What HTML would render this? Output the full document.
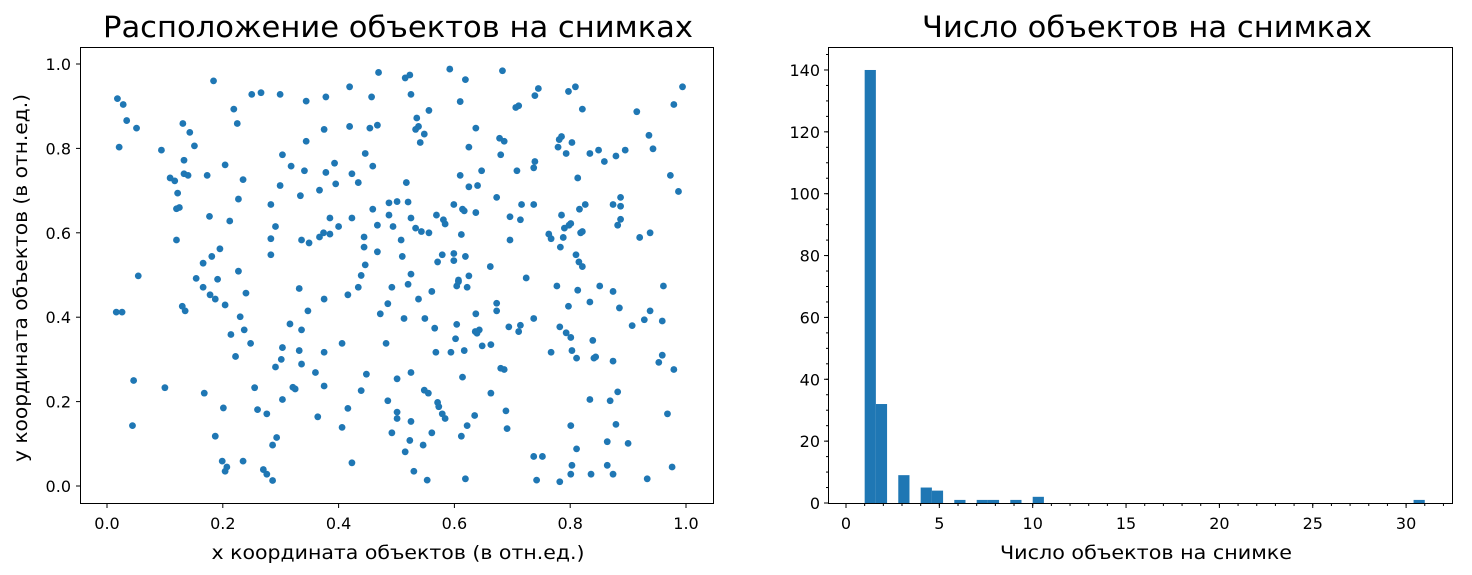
<!DOCTYPE html>
<html><head><meta charset="utf-8">
<style>
html,body{margin:0;padding:0;background:#fff;}
svg{display:block;font-family:"DejaVu Sans","Liberation Sans",sans-serif;}
</style></head>
<body>
<svg id="fig" width="1472" height="575" viewBox="0 0 1472 575" xmlns="http://www.w3.org/2000/svg">
<rect width="1472" height="575" fill="#fff"/>
<g id="left"></g>
<g id="right"></g>
</svg>
<script>
const xs = [0.018,0.028,0.034,0.051,0.021,0.094,0.184,0.131,0.143,0.151,0.133,0.133,0.140,0.109,0.117,0.122,0.120,0.125,0.120,0.054,0.154,0.191,0.173,0.204,0.219,0.225,0.235,0.227,0.177,0.212,0.250,0.266,0.299,0.283,0.291,0.283,0.283,0.195,0.181,0.166,0.227,0.299,0.303,0.318,0.341,0.334,0.344,0.344,0.378,0.375,0.378,0.393,0.395,0.367,0.385,0.400,0.336,0.349,0.367,0.374,0.385,0.419,0.419,0.423,0.434,0.423,0.446,0.459,0.457,0.469,0.454,0.467,0.459,0.467,0.444,0.444,0.446,0.439,0.467,0.487,0.487,0.494,0.501,
0.515,0.523,0.525,0.592,0.619,0.683,0.610,0.556,0.535,0.533,0.538,0.548,0.541,0.637,0.625,0.678,0.686,0.680,0.706,0.711,0.739,0.745,0.797,0.809,0.821,0.915,0.979,0.994,0.936,0.943,0.781,0.785,0.779,0.803,0.793,0.834,0.849,0.859,0.879,0.895,0.739,0.737,0.708,0.647,0.610,0.625,0.640,0.673,0.813,0.973,0.987,0.517,0.520,0.599,0.614,0.617,0.637,0.716,0.737,0.696,0.714,0.569,0.581,0.584,0.525,0.533,0.543,0.556,0.612,0.508,0.510,0.525,0.571,0.579,0.599,0.599,0.619,0.662,0.625,0.607,0.724,0.696,0.785,0.790,0.798,0.801,0.788,0.783,0.763,0.767,0.818,0.821,0.816,0.826,0.810,0.815,0.821,0.874,0.887,0.887,0.887,0.882,0.920,0.938,
0.016,0.026,0.166,0.178,0.187,0.204,0.240,0.130,0.135,0.230,0.214,0.237,0.248,0.222,0.046,0.100,0.168,0.044,0.201,0.187,0.199,0.207,0.204,0.235,0.255,0.260,0.276,0.286,0.293,0.270,0.276,0.286,0.291,0.301,0.303,0.303,0.316,0.332,0.336,0.332,0.336,0.347,0.375,0.360,0.321,0.325,0.375,0.375,0.364,0.406,0.416,0.434,0.406,0.416,0.423,0.439,0.448,0.472,0.485,0.492,0.482,0.485,0.492,0.501,0.501,0.501,
0.520,0.561,0.538,0.604,0.607,0.622,0.513,0.549,0.566,0.604,0.637,0.673,0.673,0.636,0.643,0.639,0.602,0.568,0.594,0.617,0.648,0.663,0.694,0.714,0.711,0.737,0.777,0.813,0.851,0.874,0.834,0.797,0.885,0.961,0.938,0.928,0.907,0.959,0.782,0.793,0.801,0.839,0.767,0.803,0.811,0.841,0.844,0.874,0.959,0.953,0.979,0.525,0.614,0.680,0.686,0.663,0.548,0.555,0.571,0.573,0.579,0.584,0.525,0.635,0.622,0.612,0.561,0.523,0.546,0.515,0.530,0.553,0.619,0.689,0.691,0.737,0.752,0.742,0.782,0.801,0.811,0.803,0.801,0.836,0.834,0.869,0.882,0.879,0.864,0.900,0.864,0.874,0.933,0.968,0.976];
const ys = [0.918,0.904,0.866,0.848,0.803,0.796,0.960,0.859,0.838,0.806,0.772,0.740,0.736,0.730,0.723,0.694,0.657,0.660,0.583,0.498,0.492,0.490,0.736,0.761,0.893,0.859,0.726,0.680,0.639,0.628,0.928,0.932,0.928,0.667,0.615,0.586,0.548,0.562,0.544,0.528,0.509,0.712,0.785,0.758,0.747,0.688,0.912,0.817,0.922,0.845,0.743,0.765,0.716,0.701,0.635,0.615,0.583,0.576,0.590,0.600,0.597,0.946,0.852,0.740,0.719,0.635,0.788,0.758,0.922,0.980,0.848,0.855,0.656,0.618,0.590,0.566,0.524,0.499,0.555,0.671,0.642,0.615,0.674,
0.967,0.974,0.928,0.988,0.963,0.984,0.911,0.890,0.872,0.845,0.852,0.834,0.814,0.848,0.803,0.824,0.817,0.785,0.897,0.901,0.925,0.942,0.935,0.946,0.893,0.887,0.904,0.946,0.831,0.799,0.821,0.828,0.803,0.814,0.788,0.788,0.796,0.769,0.782,0.796,0.769,0.754,0.747,0.747,0.736,0.709,0.712,0.684,0.730,0.736,0.698,0.719,0.673,0.667,0.656,0.652,0.648,0.667,0.667,0.638,0.631,0.642,0.631,0.621,0.635,0.611,0.603,0.600,0.596,0.583,0.544,0.502,0.531,0.548,0.551,0.534,0.544,0.520,0.498,0.488,0.493,0.583,0.642,0.611,0.618,0.622,0.589,0.566,0.597,0.586,0.600,0.603,0.656,0.667,0.548,0.531,0.520,0.667,0.684,0.663,0.632,0.618,0.589,0.600,
0.412,0.412,0.471,0.453,0.443,0.429,0.457,0.426,0.415,0.401,0.359,0.370,0.338,0.307,0.250,0.233,0.220,0.143,0.185,0.118,0.059,0.045,0.035,0.059,0.233,0.181,0.171,0.097,0.115,0.039,0.028,0.013,0.282,0.300,0.328,0.205,0.384,0.468,0.370,0.321,0.289,0.415,0.443,0.269,0.234,0.230,0.317,0.237,0.164,0.338,0.453,0.471,0.139,0.184,0.055,0.226,0.265,0.408,0.432,0.471,0.338,0.202,0.126,0.254,0.175,0.160,
0.478,0.461,0.443,0.474,0.484,0.471,0.397,0.397,0.374,0.383,0.408,0.433,0.415,0.366,0.370,0.362,0.349,0.317,0.317,0.321,0.332,0.335,0.377,0.381,0.366,0.397,0.474,0.464,0.474,0.461,0.436,0.426,0.422,0.474,0.415,0.394,0.380,0.391,0.377,0.363,0.352,0.345,0.317,0.321,0.303,0.303,0.306,0.296,0.310,0.293,0.276,0.269,0.258,0.279,0.276,0.220,0.227,0.220,0.198,0.188,0.171,0.160,0.153,0.167,0.143,0.118,0.126,0.108,0.097,0.081,0.035,0.014,0.017,0.178,0.136,0.070,0.070,0.014,0.010,0.143,0.088,0.049,0.028,0.028,0.205,0.202,0.223,0.146,0.105,0.101,0.049,0.028,0.017,0.171,0.045];
const scatterTicks = ["0.0","0.2","0.4","0.6","0.8","1.0"];
const binStarts = [1.0,1.6,2.8,4.0,4.6,5.8,7.0,7.6,8.8,10.0,30.4];
const binCounts = [140,32,9,5,4,1,1,1,1,2,1];
const binWidth = 0.6;
const histXTicks = [0,5,10,15,20,25,30];
const histYTicks = [0,20,40,60,80,100,120,140];

const NS="http://www.w3.org/2000/svg";
function mk(parent,tag,attrs,text){const e=document.createElementNS(NS,tag);for(const k in attrs)e.setAttribute(k,attrs[k]);if(text!==undefined)e.textContent=text;parent.appendChild(e);return e;}

// ---- left scatter ----
const L=document.getElementById('left');
const lx=v=>107+v*579, ly=v=>486-v*422;
for(let i=0;i<xs.length;i++){
  const c=mk(L,'circle',{cx:lx(xs[i]),cy:ly(ys[i]),r:3.4,fill:'#1f77b4'});
  
  
}
const lf=mk(L,'rect',{x:80.5,y:47.5,width:633,height:456,fill:'none',stroke:'#000','stroke-width':1});


scatterTicks.forEach(t=>{
  const v=parseFloat(t);
  mk(L,'line',{x1:lx(v),x2:lx(v),y1:503.5,y2:508,stroke:'#000'});
  const tx=mk(L,'text',{x:lx(v),y:529,'text-anchor':'middle','font-size':16,fill:'#000'},t);
  
  
  mk(L,'line',{x1:76,x2:80.5,y1:ly(v),y2:ly(v),stroke:'#000'});
  const ty=mk(L,'text',{x:71,y:ly(v)+6,'text-anchor':'end','font-size':16,fill:'#000'},t);
  
  
});
let e;
e=mk(L,'text',{x:398,y:37,'text-anchor':'middle','font-size':29,fill:'#000',textLength:590,lengthAdjust:'spacingAndGlyphs'},'Расположение объектов на снимках');

e=mk(L,'text',{x:398,y:559,'text-anchor':'middle','font-size':19,fill:'#000',textLength:373,lengthAdjust:'spacingAndGlyphs'},'x координата объектов (в отн.ед.)');

e=mk(L,'text',{x:0,y:0,'text-anchor':'middle','font-size':19,fill:'#000',textLength:368,lengthAdjust:'spacingAndGlyphs',transform:'translate(27,278) rotate(-90)'},'y координата объектов (в отн.ед.)');


// ---- right histogram ----
const R=document.getElementById('right');
const rx=v=>846+v*18.67, ry=v=>503-v*3.093;
for(let i=0;i<binStarts.length;i++){
  const b=mk(R,'rect',{x:rx(binStarts[i]),y:ry(binCounts[i]),width:binWidth*18.67,height:binCounts[i]*3.093,fill:'#1f77b4'});
  
  
}
const rf=mk(R,'rect',{x:828.5,y:47.5,width:624,height:456,fill:'none',stroke:'#000','stroke-width':1});


for(let v=0;v<=32;v++){ if(rx(v)<829||rx(v)>1452) continue; mk(R,'line',{x1:rx(v),x2:rx(v),y1:503.5,y2:506,stroke:'#000'}); }
for(let v=0;v<=145;v+=5){ if(ry(v)<48) continue; mk(R,'line',{x1:826,x2:828.5,y1:ry(v),y2:ry(v),stroke:'#000'}); }
histXTicks.forEach(v=>{
  mk(R,'line',{x1:rx(v),x2:rx(v),y1:503.5,y2:508,stroke:'#000'});
  const t=mk(R,'text',{x:rx(v),y:529,'text-anchor':'middle','font-size':16,fill:'#000'},String(v));
  
  
});
histYTicks.forEach(v=>{
  mk(R,'line',{x1:824,x2:828.5,y1:ry(v),y2:ry(v),stroke:'#000'});
  const t=mk(R,'text',{x:820,y:ry(v)+6,'text-anchor':'end','font-size':16,fill:'#000'},String(v));
  
  
});
e=mk(R,'text',{x:1147,y:37,'text-anchor':'middle','font-size':29,fill:'#000',textLength:450,lengthAdjust:'spacingAndGlyphs'},'Число объектов на снимках');

e=mk(R,'text',{x:1146,y:559,'text-anchor':'middle','font-size':19,fill:'#000',textLength:292,lengthAdjust:'spacingAndGlyphs'},'Число объектов на снимке');

</script>
</body></html>
